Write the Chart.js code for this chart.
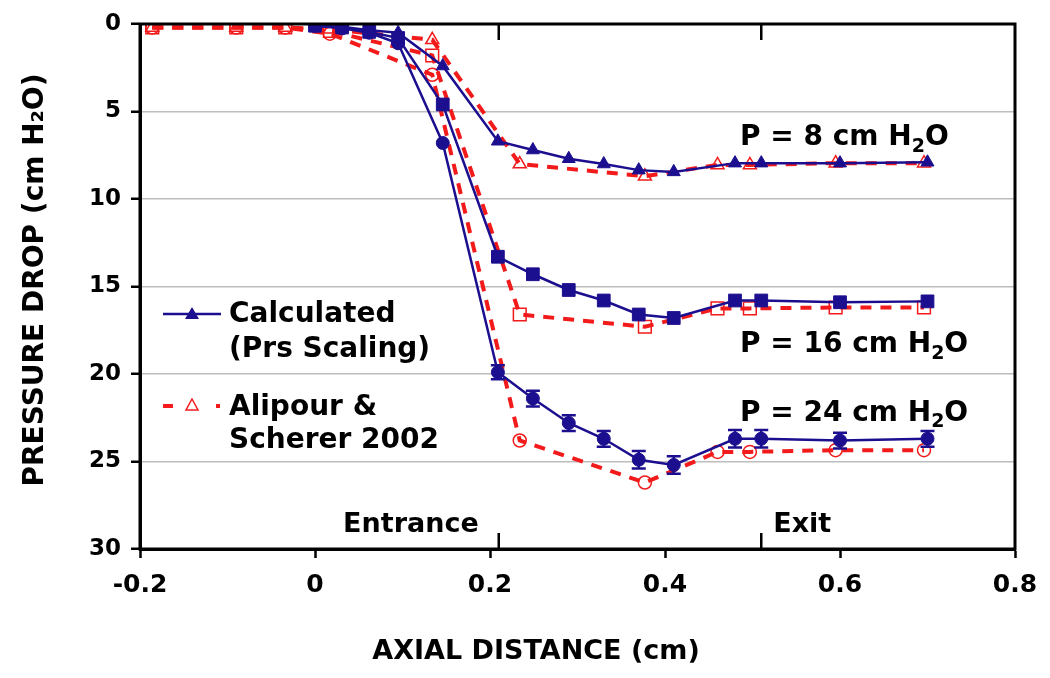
<!DOCTYPE html>
<html>
<head>
<meta charset="utf-8">
<script src="https://cdn.jsdelivr.net/npm/chart.js@4/dist/chart.umd.min.js"></script>
<style>
  body { margin: 0; background: #fff; }
  #wrap { width: 1050px; height: 678px; }
</style>
</head>
<body>
<div id="wrap"><canvas id="chart" width="1050" height="678"></canvas></div>
<script>
// calculated (Prs scaling)
const calcX = [0, 0.031, 0.062, 0.095, 0.146, 0.209, 0.249, 0.29, 0.33, 0.37, 0.41, 0.48, 0.51, 0.6, 0.7];
const calc8 = [0.1, 0.15, 0.35, 0.5, 2.4, 6.7, 7.2, 7.7, 8.0, 8.35, 8.45, 7.95, 7.95, 7.95, 7.9];
const calc16 = [0.1, 0.2, 0.45, 0.8, 4.6, 13.3, 14.3, 15.2, 15.8, 16.6, 16.8, 15.8, 15.8, 15.9, 15.85];
const calc24 = [0.1, 0.25, 0.5, 1.1, 6.8, 19.9, 21.4, 22.8, 23.7, 24.9, 25.2, 23.7, 23.7, 23.8, 23.7];
const err24 = [0, 0, 0, 0, 0, 0.4, 0.45, 0.45, 0.45, 0.5, 0.5, 0.5, 0.5, 0.45, 0.45];

// Alipour & Scherer 2002
const expX = [-0.186, -0.09, -0.034, 0.017, 0.134, 0.234, 0.377, 0.46, 0.497, 0.595, 0.696];
const exp8 = [0.2, 0.2, 0.2, 0.3, 0.9, 8.0, 8.7, 8.05, 8.05, 7.95, 7.95];
const exp16 = [0.2, 0.2, 0.2, 0.4, 1.8, 16.6, 17.3, 16.25, 16.25, 16.2, 16.2];
const exp24 = [0.2, 0.2, 0.2, 0.55, 2.9, 23.8, 26.2, 24.45, 24.45, 24.35, 24.35];

const xTicks = [-0.2, 0, 0.2, 0.4, 0.6, 0.8];
const yTicks = [0, 5, 10, 15, 20, 25, 30];
const regionMarks = [0.21, 0.51];
const regionNames = ['Entrance', 'Exit'];
const pLabels = [
  { text: 'P = 8 cm H', y: 6.5 },
  { text: 'P = 16 cm H', y: 18.35 },
  { text: 'P = 24 cm H', y: 22.25 }
];

const blue = '#1c0f8f';
const red = '#f21a1a';
const FONT = '"DejaVu Sans", Verdana, sans-serif';

function pts(xs, ys) {
  return xs.map((x, i) => ({ x: x, y: ys[i] }));
}

function markerSize(style) {
  if (style === 'rect') return 9;
  if (style === 'triangle') return 7.5;
  return 6.5;
}

function calcSet(label, ys, style) {
  return {
    label: label,
    data: pts(calcX, ys),
    borderColor: blue,
    backgroundColor: blue,
    borderWidth: 2.5,
    pointStyle: style,
    pointRadius: markerSize(style),
    pointBorderWidth: 1,
    tension: 0
  };
}

function expSet(label, ys, style) {
  return {
    label: label,
    data: pts(expX, ys),
    borderColor: red,
    backgroundColor: 'rgba(255,255,255,0)',
    pointBorderColor: red,
    borderWidth: 4,
    borderDash: [11, 9],
    pointStyle: style,
    pointRadius: markerSize(style),
    pointBorderWidth: 1.5,
    tension: 0
  };
}

// frame, entrance/exit marks, error bars, curve labels and legend
const extras = {
  id: 'extras',
  beforeDatasetsDraw(chart) {
    const ctx = chart.ctx;
    const xs = chart.scales.x;
    const a = chart.chartArea;
    ctx.save();
    ctx.strokeStyle = '#000';
    ctx.lineWidth = 2.5;
    regionMarks.forEach(v => {
      const px = xs.getPixelForValue(v);
      ctx.beginPath();
      ctx.moveTo(px, a.top); ctx.lineTo(px, a.top + 16);
      ctx.moveTo(px, a.bottom); ctx.lineTo(px, a.bottom - 16);
      ctx.stroke();
    });
    ctx.fillStyle = '#000';
    ctx.font = 'bold 27px ' + FONT;
    ctx.textBaseline = 'middle';
    ctx.textAlign = 'right';
    ctx.fillText(regionNames[0], xs.getPixelForValue(regionMarks[0]) - 20, a.bottom - 24);
    ctx.textAlign = 'left';
    ctx.fillText(regionNames[1], xs.getPixelForValue(regionMarks[1]) + 12, a.bottom - 24);
    ctx.restore();
  },
  afterDatasetsDraw(chart) {
    const ctx = chart.ctx;
    const xs = chart.scales.x, ys = chart.scales.y;
    const a = chart.chartArea;
    ctx.save();
    // error bars
    ctx.strokeStyle = blue;
    ctx.lineWidth = 2.5;
    calcX.forEach((x, i) => {
      if (!err24[i]) return;
      const px = xs.getPixelForValue(x);
      const y1 = ys.getPixelForValue(calc24[i] - err24[i]);
      const y2 = ys.getPixelForValue(calc24[i] + err24[i]);
      ctx.beginPath();
      ctx.moveTo(px, y1); ctx.lineTo(px, y2);
      ctx.moveTo(px - 7, y1); ctx.lineTo(px + 7, y1);
      ctx.moveTo(px - 7, y2); ctx.lineTo(px + 7, y2);
      ctx.stroke();
    });
    // frame
    ctx.strokeStyle = '#000';
    ctx.lineWidth = 3;
    ctx.strokeRect(a.left, a.top, a.right - a.left, a.bottom - a.top);

    // curve labels with subscript 2
    ctx.fillStyle = '#000';
    ctx.textBaseline = 'middle';
    ctx.textAlign = 'left';
    pLabels.forEach(l => {
      const x0 = 740;
      const y0 = ys.getPixelForValue(l.y);
      ctx.font = 'bold 28px ' + FONT;
      ctx.fillText(l.text, x0, y0);
      let w = ctx.measureText(l.text).width;
      ctx.font = 'bold 19px ' + FONT;
      ctx.fillText('2', x0 + w, y0 + 9);
      w += ctx.measureText('2').width;
      ctx.font = 'bold 28px ' + FONT;
      ctx.fillText('O', x0 + w, y0);
    });

    // legend
    const lx = 163, tx = 229;
    ctx.font = 'bold 28px ' + FONT;
    ctx.strokeStyle = blue;
    ctx.lineWidth = 2.5;
    ctx.beginPath(); ctx.moveTo(lx, 314); ctx.lineTo(lx + 58, 314); ctx.stroke();
    ctx.fillStyle = blue;
    ctx.beginPath(); ctx.moveTo(192, 307); ctx.lineTo(199, 319); ctx.lineTo(185, 319); ctx.closePath(); ctx.fill();
    ctx.fillStyle = '#000';
    ctx.fillText('Calculated', tx, 315);
    ctx.fillText('(Prs Scaling)', tx, 350);

    ctx.fillStyle = red;
    ctx.fillRect(lx, 404, 10, 4);
    ctx.fillRect(216, 404, 4, 4);
    ctx.strokeStyle = red;
    ctx.lineWidth = 1.5;
    ctx.beginPath(); ctx.moveTo(192, 399); ctx.lineTo(198, 410); ctx.lineTo(186, 410); ctx.closePath(); ctx.stroke();
    ctx.fillStyle = '#000';
    ctx.fillText('Alipour &', tx, 408);
    ctx.fillText('Scherer 2002', tx, 441);

    // axis titles
    ctx.font = 'bold 27px ' + FONT;
    ctx.textAlign = 'center';
    ctx.fillText('AXIAL DISTANCE (cm)', 536, 652);
    ctx.translate(36, 280);
    ctx.rotate(-Math.PI / 2);
    ctx.font = 'bold 28px ' + FONT;
    ctx.fillText('PRESSURE DROP (cm H\u2082O)', 0, 0);
    ctx.restore();
  }
};

const ctx = document.getElementById('chart').getContext('2d');
const chart = new Chart(ctx, {
  type: 'line',
  data: {
    datasets: [
      calcSet('Calculated P=8', calc8, 'triangle'),
      calcSet('Calculated P=16', calc16, 'rect'),
      calcSet('Calculated P=24', calc24, 'circle'),
      expSet('Alipour P=8', exp8, 'triangle'),
      expSet('Alipour P=16', exp16, 'rect'),
      expSet('Alipour P=24', exp24, 'circle')
    ]
  },
  options: {
    responsive: false,
    animation: false,
    layout: { padding: { top: 24, right: 35, left: 0, bottom: 0 } },
    plugins: {
      legend: { display: false },
      tooltip: { enabled: false }
    },
    scales: {
      x: {
        type: 'linear',
        min: -0.2,
        max: 0.8,
        afterFit(scale) { scale.height = 129; },
        afterBuildTicks(scale) { scale.ticks = xTicks.map(v => ({ value: v })); },
        ticks: {
          color: '#000',
          font: { family: FONT, size: 25, weight: 'bold' },
          padding: 12,
          callback: v => String(v)
        },
        grid: { drawOnChartArea: false, tickLength: 9, tickColor: '#000', tickWidth: 2.5 },
        border: { color: '#000', width: 3 }
      },
      y: {
        type: 'linear',
        reverse: true,
        min: 0,
        max: 30,
        afterFit(scale) { scale.width = 140; },
        afterBuildTicks(scale) { scale.ticks = yTicks.map(v => ({ value: v })); },
        ticks: {
          color: '#000',
          font: { family: FONT, size: 23, weight: 'bold' },
          padding: 10
        },
        grid: {
          color: c => (c.tick && (c.tick.value === 0 || c.tick.value === 30)) ? 'rgba(0,0,0,0)' : '#bdbdbd',
          lineWidth: 1.5,
          tickLength: 9,
          tickColor: '#000',
          tickWidth: 2.5
        },
        border: { color: '#000', width: 3 }
      }
    }
  },
  plugins: [extras]
});
</script>
</body>
</html>
